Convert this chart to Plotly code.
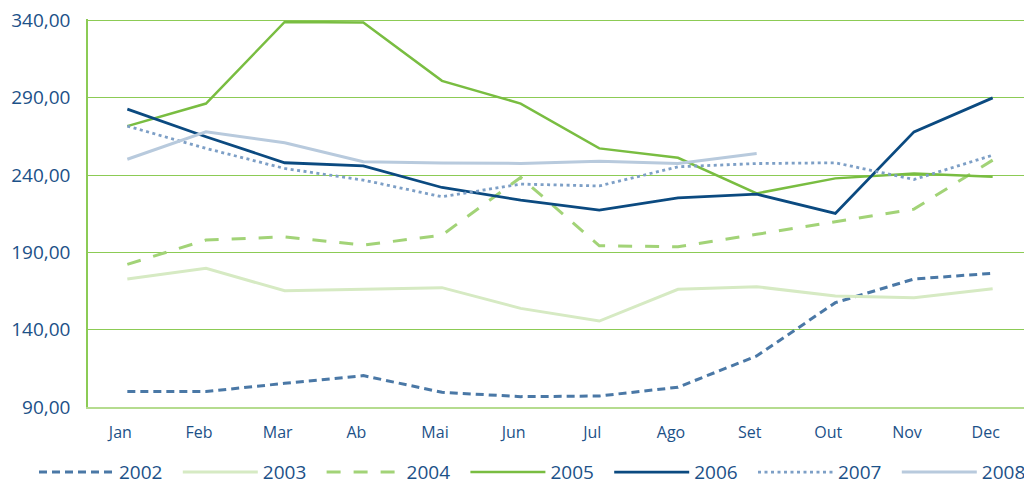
import plotly.graph_objects as go

months = ["Jan", "Feb", "Mar", "Ab", "Mai", "Jun", "Jul", "Ago", "Set", "Out", "Nov", "Dec"]

y2002 = [100.0, 100.0, 105.3, 110.3, 99.5, 96.7, 97.1, 102.8, 123.0, 157.5, 172.8, 176.5]
y2003 = [172.8, 179.7, 165.2, 166.1, 167.2, 153.8, 145.6, 166.1, 167.8, 161.8, 160.7, 166.5]
y2004 = [182.3, 198.0, 200.1, 194.7, 201.2, 238.5, 194.3, 193.7, 201.7, 209.8, 218.0, 249.7]
y2005 = [271.7, 286.3, 339.1, 338.7, 301.0, 286.3, 257.3, 251.2, 228.2, 237.9, 241.1, 238.9]
y2006 = [282.7, 264.8, 248.0, 246.0, 232.0, 223.8, 217.4, 225.3, 227.7, 215.2, 268.0, 290.0]
y2007 = [271.7, 257.3, 244.3, 236.8, 226.0, 234.2, 233.0, 245.4, 247.5, 248.0, 237.2, 252.9]
y2008 = [250.3, 268.0, 260.9, 248.6, 247.8, 247.6, 249.0, 247.6, 254.0, None, None, None]

y_ticks = [90, 140, 190, 240, 290, 340]
y_tick_labels = ["90,00", "140,00", "190,00", "240,00", "290,00", "340,00"]

series = [
    ("2002", y2002, "#4a78a6", 3, "8px,5px"),
    ("2003", y2003, "#d6eac3", 3, "solid"),
    ("2004", y2004, "#a2d377", 3, "14px,13px"),
    ("2005", y2005, "#79bd41", 2.5, "solid"),
    ("2006", y2006, "#0b4a80", 2.8, "solid"),
    ("2007", y2007, "#7d9fc6", 2.8, "3px,3.5px"),
    ("2008", y2008, "#b8cadd", 3, "solid"),
]

text_color = "#1c5188"
font_family = "Open Sans, Lato, sans-serif"

fig = go.Figure()
for name, vals, color, width, dash in series:
    fig.add_trace(go.Scatter(
        x=months, y=vals, name=name, mode="lines",
        line=dict(color=color, width=width, dash=dash),
        connectgaps=False,
    ))

# page body has an 8px default margin, so the figure is sized to fit the window
fig.update_layout(
    width=1024, height=477,
    margin=dict(l=80, r=0, t=11, b=78, autoexpand=False),
    plot_bgcolor="white", paper_bgcolor="white",
    font=dict(family=font_family, color=text_color),
    showlegend=True,
    legend=dict(
        orientation="h", x=-0.0572, xanchor="left", y=-0.168, yanchor="middle",
        font=dict(size=19, color=text_color, family=font_family),
        entrywidth=53.8, entrywidthmode="pixels",
        itemwidth=75, tracegroupgap=0, bgcolor="rgba(0,0,0,0)",
    ),
)

fig.update_xaxes(
    type="category", range=[-0.5, 11.5],
    showgrid=False, zeroline=False,
    showline=True, linecolor="#b5dc8f", linewidth=2,
    ticks="", ticklabelstandoff=10, ticklabelshift=-7,
    tickfont=dict(size=16, color=text_color, family=font_family),
)
fig.update_yaxes(
    range=[90, 341], tickvals=y_ticks, ticktext=y_tick_labels,
    showgrid=True, gridcolor="#8ccb55", gridwidth=1,
    zeroline=False,
    showline=True, linecolor="#8ccb55", linewidth=1.5,
    ticks="", ticklabelstandoff=12, ticklabeloverflow="allow",
    tickfont=dict(size=19, color=text_color, family=font_family),
)

fig.write_html("out.html")
